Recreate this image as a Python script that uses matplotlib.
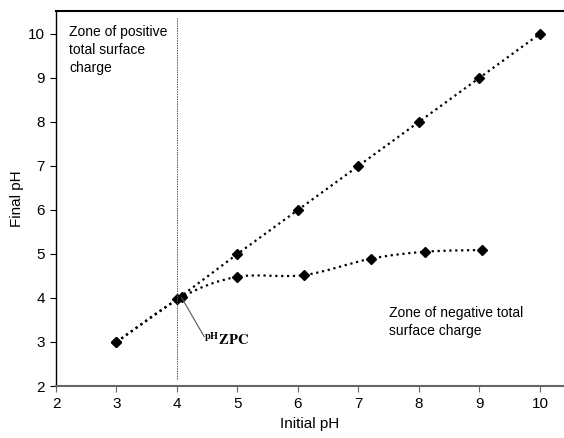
import numpy as np
import matplotlib
matplotlib.use("Agg")
import matplotlib.pyplot as plt
from matplotlib.path import Path
from matplotlib.patches import PathPatch

plt.rcParams['font.family'] = ['Liberation Sans Narrow', 'Liberation Sans', 'DejaVu Sans']
plt.rcParams['mathtext.fontset'] = 'stix'

# diagonal (initial pH = final pH)
ref_x = [3, 4, 5, 6, 7, 8, 9, 10]
ref_y = [3, 3.97, 5, 6, 7, 8, 9, 10]

# measured final pH
meas_x = [3, 4.08, 5.0, 6.1, 7.2, 8.1, 9.04]
meas_y = [3, 4.02, 4.48, 4.52, 4.89, 5.05, 5.09]

pzc_x = 4.0


def smooth_path(xs, ys):
    # Catmull-Rom style bezier through points (like a spreadsheet "smoothed line")
    pts = np.column_stack([xs, ys]).astype(float)
    verts = [pts[0]]
    codes = [Path.MOVETO]
    for i in range(len(pts) - 1):
        p0 = pts[i - 1] if i > 0 else pts[i]
        p1 = pts[i]
        p2 = pts[i + 1]
        p3 = pts[i + 2] if i + 2 < len(pts) else pts[i + 1]
        c1 = p1 + (p2 - p0) / 6.0
        c2 = p2 - (p3 - p1) / 6.0
        verts += [c1, c2, p2]
        codes += [Path.CURVE4] * 3
    return Path(verts, codes)


fig = plt.figure(figsize=(5.64, 4.38), dpi=100)
ax = fig.add_axes([0.0993, 0.1187, 0.8987, 0.8563])

ax.plot(ref_x, ref_y, linestyle=':', color='black', linewidth=1.6,
        marker='D', markersize=5, markerfacecolor='black', markeredgecolor='black')

ax.add_patch(PathPatch(smooth_path(meas_x, meas_y), fill=False, linestyle=':',
                       edgecolor='black', linewidth=1.6))
ax.plot(meas_x, meas_y, linestyle='none', marker='D', markersize=5, color='black')

ax.plot([pzc_x, pzc_x], [2.16, 10.39], color='#555555', linestyle=(0, (1.5, 1)),
        linewidth=0.7)

# pHZPC label with leader line
ax.plot([4.08, 4.45], [4.0, 3.12], color='#555555', linewidth=0.8)
ax.text(4.45, 2.93, r'$^{\mathbf{pH}}\mathbf{ZPC}$', fontsize=10.5,
        va='baseline', ha='left')

ax.text(2.22, 10.2, 'Zone of positive\ntotal surface\ncharge', fontsize=10,
        va='top', ha='left', linespacing=1.35)
ax.text(7.5, 3.82, 'Zone of negative total\nsurface charge', fontsize=10,
        va='top', ha='left', linespacing=1.35)

ax.set_xlim(2, 10.38)
ax.set_ylim(2, 10.52)
ax.set_xticks(range(2, 11))
ax.set_yticks(range(2, 11))

ax.spines['right'].set_visible(False)
ax.spines['top'].set_linewidth(1.5)
ax.spines['left'].set_linewidth(1.0)
ax.spines['bottom'].set_color('#666666')
ax.spines['bottom'].set_linewidth(1.5)
ax.tick_params(axis='y', direction='out', length=4, width=0.8, labelsize=11, pad=4)
ax.tick_params(axis='x', direction='out', length=4, width=0.8, color='#666666',
               labelsize=11, pad=4)

ax.set_xlabel('Initial pH', fontsize=11, labelpad=4)
ax.set_ylabel('Final pH', fontsize=11, labelpad=3)

fig.savefig('out.png', dpi=100)
